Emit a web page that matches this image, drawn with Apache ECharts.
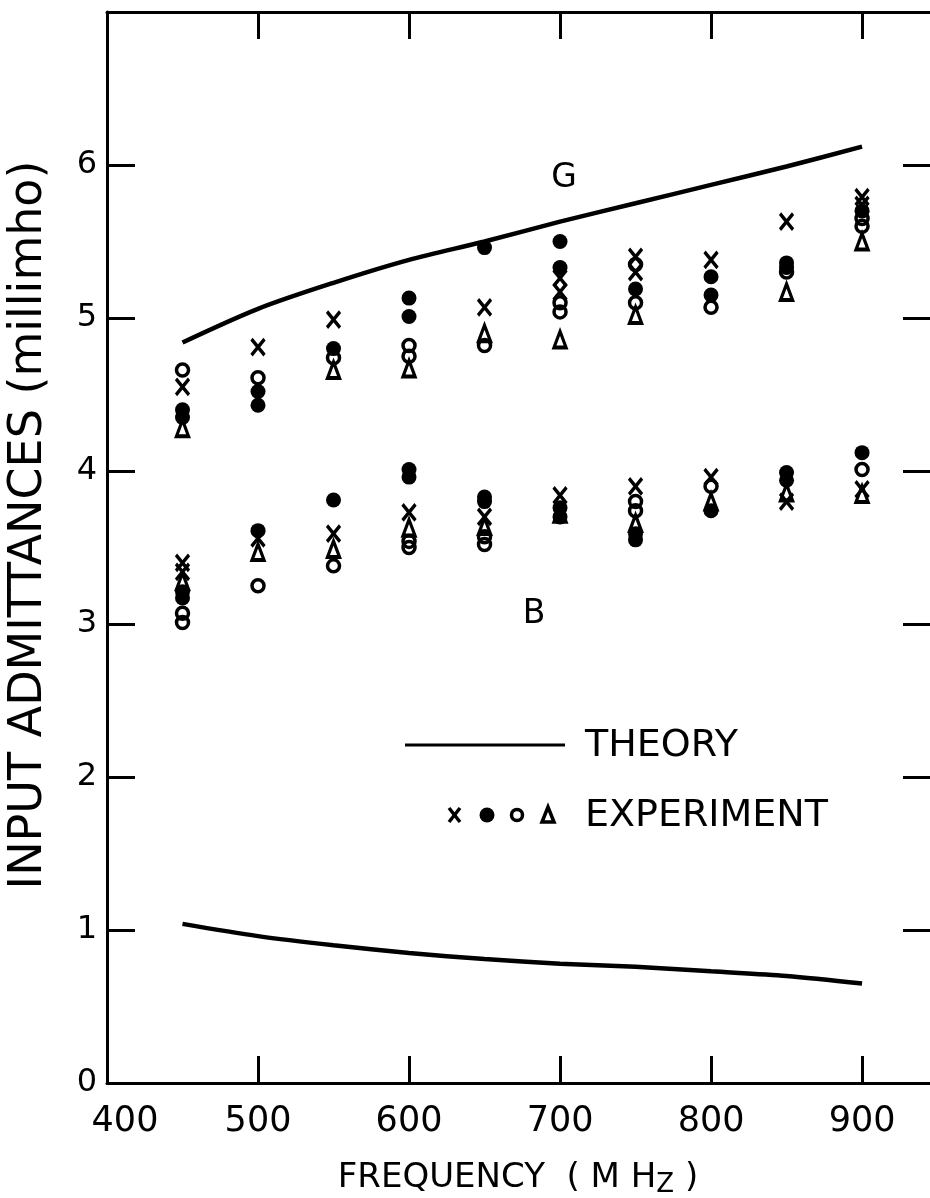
<!DOCTYPE html>
<html>
<head>
<meta charset="utf-8">
<script src="https://cdn.jsdelivr.net/npm/echarts@6/dist/echarts.min.js"></script>
<style>
  html, body { margin: 0; padding: 0; background: #fff; overflow: hidden; }
  #chart { width: 930px; height: 1198px; }
</style>
</head>
<body>
<div id="chart"></div>
<script>
// ---- Data ----
const theoryFreq = [450, 500, 550, 600, 650, 700, 750, 800, 850, 900];
const theoryG = [4.84, 5.06, 5.23, 5.38, 5.50, 5.63, 5.75, 5.87, 5.99, 6.12];
const theoryB = [1.04, 0.96, 0.90, 0.85, 0.81, 0.78, 0.76, 0.73, 0.70, 0.65];

// Experiment, marker "x"  [frequency MHz, admittance mmho]
const expCross = [
  [450, 4.55], [500, 4.81], [550, 4.99], [650, 5.07], [700, 5.26], [700, 5.17],
  [750, 5.40], [750, 5.30], [800, 5.38], [850, 5.63], [900, 5.79], [900, 5.74],
  [450, 3.40], [450, 3.34], [500, 3.56], [550, 3.59], [600, 3.73], [650, 3.70],
  [700, 3.84], [750, 3.90], [800, 3.96], [850, 3.80], [900, 3.88]
];
// Experiment, filled circle
const expDot = [
  [450, 4.40], [450, 4.35], [500, 4.52], [500, 4.43], [550, 4.80], [600, 5.13],
  [600, 5.01], [650, 5.46], [700, 5.50], [700, 5.33], [750, 5.19], [800, 5.27],
  [800, 5.15], [850, 5.36], [850, 5.33], [900, 5.70],
  [450, 3.21], [450, 3.17], [500, 3.61], [550, 3.81], [600, 4.01], [600, 3.96],
  [650, 3.83], [650, 3.80], [700, 3.76], [700, 3.70], [750, 3.59], [750, 3.55],
  [800, 3.74], [850, 3.99], [850, 3.94], [900, 4.12]
];
// Experiment, open circle
const expCircle = [
  [450, 4.66], [500, 4.61], [550, 4.74], [600, 4.82], [600, 4.75], [650, 4.82],
  [700, 5.10], [700, 5.04], [750, 5.35], [750, 5.10], [800, 5.07], [850, 5.30],
  [900, 5.65], [900, 5.60],
  [450, 3.07], [450, 3.01], [500, 3.25], [550, 3.38], [600, 3.54], [600, 3.50],
  [650, 3.57], [650, 3.52], [750, 3.80], [750, 3.74], [800, 3.90], [900, 4.01]
];
// Experiment, open triangle
const expTriangle = [
  [450, 4.28], [550, 4.66], [600, 4.67], [650, 4.90], [700, 4.86], [750, 5.02],
  [850, 5.17], [900, 5.50],
  [450, 3.28], [500, 3.47], [550, 3.49], [600, 3.63], [650, 3.64], [700, 3.72],
  [750, 3.66], [800, 3.80], [850, 3.86], [900, 3.85]
];

const xTickLabels = [400, 500, 600, 700, 800, 900];
const xTickMarks = [500, 600, 700, 800, 900];
const yTickLabels = [0, 1, 2, 3, 4, 5, 6];
const yTickMarks = [1, 2, 3, 4, 5, 6];
const curveLabels = { G: 'G', B: 'B' };
const legendTexts = { theory: 'THEORY', experiment: 'EXPERIMENT' };
const axisTitles = { x: 'FREQUENCY', y: 'INPUT ADMITTANCES (millimho)' };

// ---- Chart ----
const FONT = "'DejaVu Sans', 'Liberation Sans', sans-serif";
const INK = '#000';
const CLEAR = 'rgba(255,255,255,0)';
const chart = echarts.init(document.getElementById('chart'), null, { renderer: 'canvas' });

const pair = (xs, ys) => xs.map((x, i) => [x, ys[i]]);
const crossPath = 'path://M0,0L10,12M10,0L0,12';

function tickCfg(len, values) {
  return { show: true, inside: true, length: len, customValues: values, lineStyle: { color: INK, width: 3 } };
}
const lineCfg = { show: true, onZero: false, lineStyle: { color: INK, width: 3 } };

chart.setOption({
  backgroundColor: '#fff',
  animation: false,
  grid: { left: 107, top: 12, right: 0, bottom: 115, containLabel: false },
  xAxis: [
    {
      type: 'value', position: 'bottom', min: 400, max: 945, interval: 100,
      splitLine: { show: false },
      axisLine: lineCfg,
      axisTick: tickCfg(27, xTickMarks),
      axisLabel: {
        show: true, margin: 21, color: INK, fontFamily: FONT, fontSize: 35,
        customValues: xTickLabels,
        formatter: v => (v === 400 ? '{first|400}' : String(v)),
        rich: { first: { fontFamily: FONT, fontSize: 35, color: INK, padding: [0, 0, 0, 36] } }
      }
    },
    {
      type: 'value', position: 'top', min: 400, max: 945, interval: 100,
      splitLine: { show: false },
      axisLine: lineCfg,
      axisTick: tickCfg(27, xTickMarks),
      axisLabel: { show: false }
    }
  ],
  yAxis: [
    {
      type: 'value', position: 'left', min: 0, max: 7, interval: 1,
      splitLine: { show: false },
      axisLine: lineCfg,
      axisTick: tickCfg(28, yTickMarks),
      axisLabel: {
        show: true, margin: 10, color: INK, fontFamily: FONT, fontSize: 32,
        customValues: yTickLabels
      }
    },
    {
      type: 'value', position: 'right', min: 0, max: 7, interval: 1,
      splitLine: { show: false },
      axisLine: { show: false, onZero: false },
      axisTick: tickCfg(27, yTickMarks),
      axisLabel: { show: false }
    }
  ],
  series: [
    {
      name: 'Theory G', type: 'line', data: pair(theoryFreq, theoryG), smooth: 0.3,
      showSymbol: false, symbol: 'none', lineStyle: { color: INK, width: 4.5 }, z: 3
    },
    {
      name: 'Theory B', type: 'line', data: pair(theoryFreq, theoryB), smooth: 0.3,
      showSymbol: false, symbol: 'none', lineStyle: { color: INK, width: 4.5 }, z: 3
    },
    {
      name: 'x', type: 'scatter', data: expCross, symbol: crossPath, symbolSize: [13, 16],
      itemStyle: { color: CLEAR, borderColor: INK, borderWidth: 3.5, opacity: 1 }, z: 4
    },
    {
      name: 'dot', type: 'scatter', data: expDot, symbol: 'circle', symbolSize: 15,
      itemStyle: { color: INK, borderColor: INK, borderWidth: 0, opacity: 1 }, z: 4
    },
    {
      name: 'circle', type: 'scatter', data: expCircle, symbol: 'circle', symbolSize: 12,
      itemStyle: { color: CLEAR, borderColor: INK, borderWidth: 3.5, opacity: 1 }, z: 4
    },
    {
      name: 'triangle', type: 'scatter', data: expTriangle, symbol: 'triangle', symbolSize: [12, 16],
      itemStyle: { color: CLEAR, borderColor: INK, borderWidth: 3.5, opacity: 1 }, z: 4
    }
  ],
  graphic: [
    // axis titles
    {
      type: 'text', x: 29, y: 525, rotation: Math.PI / 2,
      style: {
        text: axisTitles.y, fill: INK, font: '46px ' + FONT,
        align: 'center', verticalAlign: 'middle'
      }
    },
    {
      type: 'text', x: 518, y: 1178,
      style: {
        text: '{a|' + axisTitles.x + '  ( M H}{s|Z}{a| )}',
        align: 'center', verticalAlign: 'middle',
        rich: {
          a: { fontSize: 34, fontFamily: FONT, fill: INK, color: INK },
          s: { fontSize: 26, fontFamily: FONT, fill: INK, color: INK, padding: [14, 0, 0, 0] }
        }
      }
    },
    // curve labels
    { type: 'text', x: 564, y: 178, style: { text: curveLabels.G, fill: INK, font: '33px ' + FONT, align: 'center', verticalAlign: 'middle' } },
    { type: 'text', x: 534, y: 614, style: { text: curveLabels.B, fill: INK, font: '33px ' + FONT, align: 'center', verticalAlign: 'middle' } },
    // legend
    { type: 'line', shape: { x1: 405, y1: 745, x2: 565, y2: 745 }, style: { stroke: INK, lineWidth: 3 } },
    { type: 'text', x: 585, y: 746, style: { text: legendTexts.theory, fill: INK, font: '38px ' + FONT, align: 'left', verticalAlign: 'middle' } },
    { type: 'line', shape: { x1: 449, y1: 808, x2: 460, y2: 822 }, style: { stroke: INK, lineWidth: 3.5 } },
    { type: 'line', shape: { x1: 460, y1: 808, x2: 449, y2: 822 }, style: { stroke: INK, lineWidth: 3.5 } },
    { type: 'circle', shape: { cx: 487, cy: 815, r: 7.5 }, style: { fill: INK } },
    { type: 'circle', shape: { cx: 517, cy: 815, r: 5.5 }, style: { fill: CLEAR, stroke: INK, lineWidth: 3.5 } },
    { type: 'polygon', shape: { points: [[548, 807], [542, 822], [554, 822]] }, style: { fill: CLEAR, stroke: INK, lineWidth: 3.5 } },
    { type: 'text', x: 585, y: 816, style: { text: legendTexts.experiment, fill: INK, font: '38px ' + FONT, align: 'left', verticalAlign: 'middle' } }
  ]
});
</script>
</body>
</html>
